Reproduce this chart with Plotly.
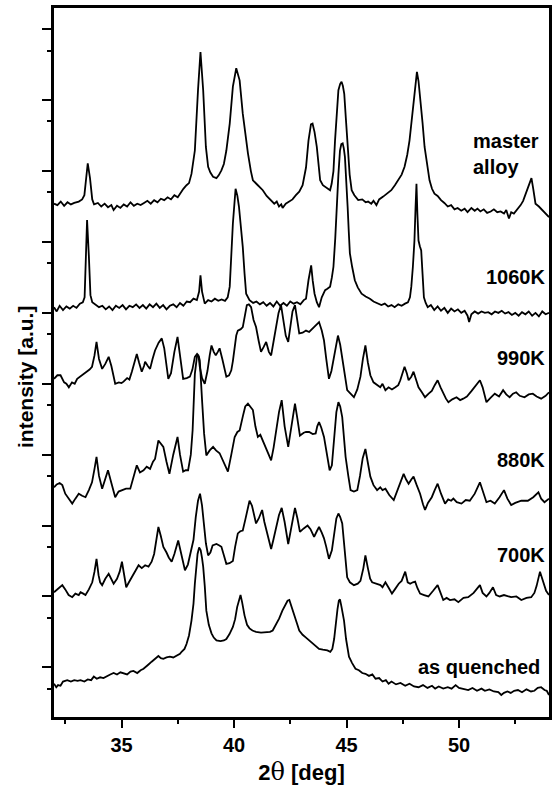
import plotly.graph_objects as go

# ---------------- data (2theta in deg, stacked intensity in a.u.) ----------------
ma_x = [32.0, 32.15, 32.3, 32.45, 32.6, 32.75, 32.9, 33.1, 33.25, 33.35, 33.5, 33.6, 33.7, 33.78,
        33.95, 34.1, 34.25, 34.4, 34.55, 34.65, 34.8, 34.95, 35.1, 35.25, 35.4, 35.55, 35.7, 35.85,
        36.0, 36.15, 36.3, 36.45, 36.6, 36.75, 36.9, 37.05, 37.2, 37.35, 37.5, 37.6, 37.75, 37.89,
        38.0, 38.11, 38.26, 38.4, 38.51, 38.63, 38.75, 38.85, 38.95, 39.07, 39.22, 39.32, 39.44,
        39.55, 39.66, 39.81, 39.95, 40.1, 40.25, 40.39, 40.5, 40.62, 40.75, 40.84, 41.06, 41.2,
        41.28, 41.45, 41.57, 41.68, 41.79, 41.9, 42.0, 42.1, 42.16, 42.3, 42.46, 42.6, 42.75, 42.9,
        43.05, 43.2, 43.31, 43.42, 43.49, 43.58, 43.68, 43.76, 43.83, 43.95, 44.05, 44.15, 44.27,
        44.34, 44.42, 44.49, 44.56, 44.64, 44.72, 44.78, 44.84, 44.9, 44.97, 45.05, 45.14, 45.23,
        45.35, 45.52, 45.7, 45.85, 45.96, 46.1, 46.2, 46.33, 46.45, 46.63, 46.8, 46.99, 47.15,
        47.29, 47.45, 47.58, 47.7, 47.8, 47.95, 48.05, 48.13, 48.2, 48.29, 48.38, 48.47, 48.58,
        48.69, 48.8, 48.91, 49.05, 49.2, 49.35, 49.5, 49.65, 49.8, 49.94, 50.1, 50.25, 50.38,
        50.55, 50.7, 50.82, 50.95, 51.1, 51.25, 51.41, 51.55, 51.7, 51.85, 52.0, 52.1, 52.22,
        52.32, 52.44, 52.6, 52.74, 52.85, 52.96, 53.1, 53.22, 53.3, 53.4, 53.55, 53.7, 53.85, 54.0]
ma_y = [7.24, 7.22, 7.27, 7.21, 7.26, 7.23, 7.25, 7.27, 7.3, 7.36, 7.81, 7.6, 7.3, 7.23,
        7.25, 7.2, 7.24, 7.19, 7.22, 7.15, 7.21, 7.18, 7.23, 7.2, 7.26, 7.21, 7.24, 7.22,
        7.25, 7.28, 7.24, 7.29, 7.26, 7.31, 7.29, 7.33, 7.3, 7.36, 7.33, 7.38, 7.45, 7.5,
        7.53, 7.66, 7.99, 8.84, 9.38, 8.84, 8.04, 7.76, 7.68, 7.62, 7.6, 7.64, 7.71,
        7.8, 7.99, 8.37, 8.89, 9.15, 8.98, 8.51, 8.2, 7.95, 7.7, 7.57, 7.5, 7.46,
        7.43, 7.35, 7.31, 7.28, 7.24, 7.27, 7.2, 7.23, 7.18, 7.24, 7.27, 7.3, 7.36, 7.41,
        7.5, 7.75, 8.13, 8.36, 8.37, 8.25, 8.04, 7.75, 7.57, 7.5, 7.48, 7.45, 7.43,
        7.52, 7.7, 8.13, 8.5, 8.84, 8.93, 8.96, 8.9, 8.79, 8.45, 7.99, 7.65, 7.43,
        7.36, 7.29, 7.3, 7.26, 7.27, 7.24, 7.28, 7.22, 7.3, 7.34, 7.38, 7.43, 7.5,
        7.57, 7.65, 7.76, 7.93, 8.13, 8.61, 8.95, 9.1, 8.97, 8.7, 8.38, 8.04, 7.78,
        7.57, 7.45, 7.38, 7.35, 7.29, 7.25, 7.2, 7.22, 7.16, 7.18, 7.14, 7.17, 7.12,
        7.18, 7.14, 7.17, 7.13, 7.16, 7.11, 7.13, 7.16, 7.12, 7.13, 7.1, 7.15, 7.03,
        7.12, 7.1, 7.16, 7.22, 7.28, 7.38, 7.48, 7.6, 7.45, 7.24, 7.2, 7.15, 7.1, 7.05]

k1060_x = [32.0, 32.12, 32.25, 32.4, 32.55, 32.7, 32.85, 33.0, 33.15, 33.28, 33.36, 33.42, 33.47,
           33.55, 33.62, 33.7, 33.85, 34.0, 34.15, 34.3, 34.45, 34.6, 34.75, 34.9, 35.05, 35.2,
           35.35, 35.5, 35.65, 35.8, 35.95, 36.1, 36.25, 36.4, 36.55, 36.7, 36.85, 37.0, 37.15,
           37.3, 37.45, 37.6, 37.75, 37.9, 38.05, 38.2, 38.35, 38.45, 38.51, 38.58, 38.7, 38.85,
           39.0, 39.15, 39.3, 39.45, 39.6, 39.72, 39.81, 39.88, 39.95, 40.07, 40.15, 40.22, 40.3,
           40.39, 40.47, 40.54, 40.69, 40.85, 41.0, 41.15, 41.3, 41.45, 41.6, 41.75, 41.9, 42.05,
           42.2, 42.35, 42.5, 42.65, 42.8, 42.95, 43.1, 43.2, 43.31, 43.43, 43.5, 43.58, 43.68,
           43.78, 43.9, 44.05, 44.15, 44.27, 44.35, 44.42, 44.5, 44.56, 44.64, 44.71, 44.77, 44.83,
           44.88, 44.93, 45.0, 45.05, 45.1, 45.15, 45.25, 45.37, 45.5, 45.67, 45.85, 46.04, 46.2,
           46.35, 46.55, 46.7, 46.85, 47.0, 47.14, 47.3, 47.45, 47.6, 47.73, 47.82, 47.88, 47.95,
           48.02, 48.07, 48.11, 48.15, 48.2, 48.26, 48.32, 48.38, 48.44, 48.52, 48.61, 48.75, 48.9,
           49.05, 49.2, 49.35, 49.5, 49.65, 49.8, 49.95, 50.1, 50.25, 50.38, 50.45, 50.55, 50.7,
           50.85, 51.0, 51.15, 51.3, 51.45, 51.6, 51.75, 51.9, 52.05, 52.2, 52.35, 52.5, 52.65,
           52.8, 52.95, 53.1, 53.25, 53.4, 53.55, 53.7, 53.85, 54.0]
k1060_y = [5.78, 5.72, 5.8, 5.74, 5.79, 5.76, 5.8, 5.77, 5.83, 5.85, 5.92, 6.5, 7.01,
           6.5, 5.95, 5.85, 5.82, 5.78, 5.8, 5.75, 5.79, 5.74, 5.8, 5.77, 5.81, 5.75,
           5.8, 5.78, 5.82, 5.77, 5.81, 5.76, 5.82, 5.78, 5.83, 5.77, 5.81, 5.75, 5.8,
           5.82, 5.78, 5.84, 5.8, 5.86, 5.85, 5.9, 5.88, 6.0, 6.23, 6.0, 5.83, 5.88,
           5.86, 5.9, 5.87, 5.89, 5.87, 5.92, 6.07, 6.5, 6.96, 7.45, 7.35, 7.2, 6.95,
           6.63, 6.25, 5.97, 5.88, 5.84, 5.86, 5.82, 5.85, 5.8, 5.84, 5.79, 5.86, 5.8,
           5.84, 5.8, 5.86, 5.83, 5.85, 5.82, 5.88, 5.9, 6.16, 6.37, 6.15, 5.97, 5.85,
           5.78, 5.92, 6.02, 6.04, 6.07, 6.2, 6.35, 6.75, 7.2, 7.65, 7.99, 8.08, 8.09,
           8.02, 7.9, 7.55, 7.2, 6.85, 6.54, 6.35, 6.16, 6.06, 5.97, 5.93, 5.9, 5.86,
           5.84, 5.81, 5.83, 5.79, 5.81, 5.78, 5.82, 5.8, 5.83, 5.85, 5.92, 6.07, 6.35,
           6.72, 7.2, 7.52, 7.1, 6.72, 6.64, 6.58, 6.25, 5.92, 5.84, 5.78, 5.81, 5.74,
           5.79, 5.73, 5.77, 5.7, 5.76, 5.72, 5.75, 5.7, 5.73, 5.66, 5.57, 5.68, 5.72,
           5.69, 5.72, 5.7, 5.71, 5.68, 5.72, 5.7, 5.73, 5.69, 5.71, 5.67, 5.7, 5.66,
           5.71, 5.68, 5.72, 5.66, 5.7, 5.65, 5.72, 5.68, 5.7]

k990_x = [32.0, 32.15, 32.29, 32.45, 32.55, 32.66, 32.8, 32.92, 33.03, 33.15, 33.3, 33.47, 33.58,
          33.69, 33.8, 33.89, 34.0, 34.14, 34.28, 34.43, 34.55, 34.72, 34.88, 35.0, 35.09, 35.25,
          35.35, 35.46, 35.58, 35.68, 35.78, 35.9, 36.0, 36.05, 36.17, 36.27, 36.38, 36.49, 36.65,
          36.79, 36.9, 37.0, 37.08, 37.2, 37.35, 37.49, 37.6, 37.74, 37.9, 38.04, 38.15, 38.26,
          38.36, 38.42, 38.48, 38.58, 38.7, 38.82, 38.92, 39.0, 39.1, 39.19, 39.28, 39.36, 39.48,
          39.58, 39.66, 39.78, 39.88, 39.95, 40.03, 40.1, 40.17, 40.3, 40.39, 40.48, 40.57, 40.66,
          40.76, 40.87, 40.98, 41.1, 41.2, 41.32, 41.43, 41.55, 41.65, 41.76, 41.87, 41.98, 42.09,
          42.2, 42.3, 42.41, 42.5, 42.6, 42.71, 42.8, 42.9, 43.05, 43.2, 43.34, 43.5, 43.65,
          43.78, 43.9, 44.0, 44.1, 44.22, 44.33, 44.44, 44.53, 44.62, 44.72, 44.81, 44.92, 45.03,
          45.18, 45.33, 45.48, 45.62, 45.73, 45.84, 45.95, 46.06, 46.2, 46.36, 46.5, 46.6, 46.73,
          46.87, 47.02, 47.17, 47.3, 47.39, 47.48, 47.58, 47.68, 47.76, 47.88, 47.98, 48.1, 48.2,
          48.35, 48.49, 48.65, 48.79, 48.92, 49.05, 49.18, 49.3, 49.42, 49.53, 49.7, 49.89, 50.05,
          50.19, 50.35, 50.56, 50.75, 50.93, 51.05, 51.22, 51.4, 51.59, 51.78, 51.96, 52.1, 52.25,
          52.4, 52.54, 52.7, 52.91, 53.1, 53.28, 53.45, 53.65, 53.85, 54.0]
k990_y = [4.77, 4.82, 4.82, 4.72, 4.7, 4.65, 4.72, 4.7, 4.77, 4.8, 4.83, 4.87, 4.9,
          4.94, 5.1, 5.29, 5.05, 4.91, 4.98, 5.08, 4.95, 4.7, 4.72, 4.71, 4.73, 4.78,
          4.76, 4.87, 5.0, 5.12, 5.0, 4.87, 4.95, 5.01, 4.95, 4.91, 5.05, 5.17, 5.28,
          5.34, 5.2, 4.95, 4.77, 4.85, 5.15, 5.36, 5.1, 4.77, 4.78, 4.8, 4.9, 5.08,
          5.12, 5.1, 4.94, 4.78, 4.7, 4.88, 5.1, 5.24, 5.15, 5.1, 5.15, 5.2, 5.05,
          4.88, 4.8, 4.82, 4.89, 5.02, 5.2, 5.38, 5.45, 5.47, 5.5, 5.65, 5.81, 5.82,
          5.78, 5.6, 5.5, 5.3, 5.15, 5.22, 5.29, 5.15, 5.1, 5.3, 5.5, 5.7, 5.81,
          5.6, 5.38, 5.29, 5.5, 5.72, 5.81, 5.6, 5.41, 5.42, 5.45, 5.43, 5.48, 5.52,
          5.57, 5.45, 5.31, 5.05, 4.77, 4.88, 5.08, 5.25, 5.38, 5.25, 5.08, 4.85, 4.61,
          4.56, 4.51, 4.62, 4.8, 5.05, 5.24, 5.0, 4.82, 4.72, 4.68, 4.65, 4.7, 4.61,
          4.65, 4.62, 4.65, 4.68, 4.75, 4.85, 4.94, 4.85, 4.75, 4.8, 4.87, 4.75, 4.65,
          4.58, 4.51, 4.56, 4.6, 4.68, 4.75, 4.65, 4.56, 4.49, 4.44, 4.48, 4.51, 4.47,
          4.49, 4.52, 4.6, 4.68, 4.75, 4.65, 4.44, 4.5, 4.56, 4.52, 4.61, 4.55, 4.51,
          4.56, 4.58, 4.53, 4.51, 4.55, 4.56, 4.52, 4.49, 4.53, 4.58]

k880_x = [32.0, 32.12, 32.25, 32.37, 32.5, 32.65, 32.81, 32.95, 33.1, 33.25, 33.4, 33.55, 33.69,
          33.8, 33.89, 34.0, 34.14, 34.27, 34.4, 34.55, 34.72, 34.87, 35.02, 35.2, 35.39, 35.55,
          35.68, 35.82, 35.98, 36.12, 36.27, 36.4, 36.49, 36.64, 36.75, 36.86, 37.0, 37.13, 37.3,
          37.49, 37.6, 37.74, 37.85, 37.96, 38.08, 38.16, 38.26, 38.36, 38.44, 38.48, 38.58, 38.67,
          38.77, 38.92, 39.07, 39.2, 39.36, 39.55, 39.73, 39.88, 40.03, 40.15, 40.25, 40.4, 40.5,
          40.62, 40.72, 40.84, 40.95, 41.06, 41.17, 41.28, 41.45, 41.65, 41.76, 41.87, 42.0, 42.12,
          42.25, 42.41, 42.55, 42.71, 42.82, 42.93, 43.1, 43.2, 43.34, 43.5, 43.63, 43.7, 43.78,
          43.88, 44.0, 44.12, 44.25, 44.35, 44.45, 44.55, 44.64, 44.72, 44.81, 44.88, 44.96, 45.08,
          45.18, 45.33, 45.48, 45.6, 45.72, 45.84, 45.95, 46.06, 46.2, 46.36, 46.5, 46.6, 46.73,
          46.9, 47.1, 47.25, 47.39, 47.54, 47.65, 47.76, 47.88, 47.98, 48.12, 48.27, 48.4, 48.49,
          48.62, 48.79, 48.92, 49.05, 49.2, 49.38, 49.52, 49.65, 49.75, 49.9, 50.11, 50.3, 50.48,
          50.7, 50.93, 51.05, 51.22, 51.4, 51.59, 51.8, 52.0, 52.15, 52.32, 52.5, 52.77, 53.06,
          53.3, 53.53, 53.65, 53.8, 54.0]
k880_y = [3.24, 3.28, 3.3, 3.27, 3.15, 3.08, 3.01, 3.08, 3.15, 3.12, 3.1, 3.2, 3.31,
          3.5, 3.67, 3.4, 3.22, 3.35, 3.48, 3.3, 3.1, 3.18, 3.2, 3.22, 3.22, 3.4,
          3.55, 3.45, 3.48, 3.53, 3.5, 3.6, 3.64, 3.9, 3.86, 3.81, 3.6, 3.43, 3.7,
          3.95, 3.7, 3.46, 3.48, 3.48, 3.7, 4.04, 4.84, 5.1, 5.08, 5.03, 4.47, 4.0,
          3.69, 3.76, 3.81, 3.76, 3.72, 3.58, 3.46, 3.7, 3.95, 4.02, 4.04, 4.25, 4.38,
          4.42, 4.38, 4.33, 4.1, 3.95, 3.98, 3.9, 3.75, 3.62, 3.8, 4.04, 4.3, 4.47,
          4.1, 3.81, 4.1, 4.42, 4.2, 3.97, 4.01, 4.02, 4.02, 3.99, 4.0, 4.1, 4.16,
          4.08, 3.95, 3.7, 3.48, 3.55, 3.9, 4.3, 4.44, 4.38, 4.23, 3.95, 3.67, 3.4,
          3.2, 3.18, 3.2, 3.4, 3.65, 3.78, 3.6, 3.39, 3.27, 3.2, 3.24, 3.2, 3.22,
          3.13, 3.06, 3.18, 3.29, 3.43, 3.35, 3.29, 3.35, 3.39, 3.27, 3.15, 3.0, 2.92,
          3.02, 3.1, 3.2, 3.29, 3.15, 3.01, 3.07, 3.05, 3.08, 3.03, 3.01, 3.06, 3.05,
          3.15, 3.31, 3.2, 3.03, 3.05, 3.01, 3.1, 3.2, 3.08, 2.99, 3.02, 3.05, 3.05,
          3.1, 3.17, 3.08, 3.03, 3.08]

k700_x = [32.0, 32.15, 32.37, 32.5, 32.65, 32.81, 32.95, 33.1, 33.18, 33.3, 33.4, 33.55, 33.7,
          33.8, 33.89, 33.98, 34.05, 34.14, 34.28, 34.43, 34.55, 34.65, 34.8, 34.92, 35.02, 35.12,
          35.21, 35.33, 35.46, 35.6, 35.76, 35.9, 36.05, 36.2, 36.34, 36.45, 36.55, 36.64, 36.75,
          36.86, 37.0, 37.1, 37.23, 37.35, 37.52, 37.65, 37.82, 37.95, 38.11, 38.2, 38.3, 38.4,
          38.49, 38.58, 38.66, 38.75, 38.85, 38.95, 39.05, 39.22, 39.35, 39.44, 39.55, 39.66, 39.8,
          39.95, 40.05, 40.17, 40.28, 40.39, 40.5, 40.6, 40.69, 40.8, 40.9, 40.98, 41.1, 41.25,
          41.35, 41.5, 41.65, 41.75, 41.87, 42.0, 42.12, 42.25, 42.41, 42.55, 42.71, 42.82, 42.93,
          43.1, 43.27, 43.4, 43.56, 43.68, 43.78, 43.9, 44.0, 44.1, 44.22, 44.35, 44.45, 44.55,
          44.64, 44.72, 44.81, 44.9, 45.03, 45.15, 45.33, 45.5, 45.62, 45.75, 45.84, 45.95, 46.05,
          46.14, 46.3, 46.51, 46.6, 46.73, 46.88, 47.02, 47.15, 47.32, 47.45, 47.61, 47.72, 47.83,
          47.95, 48.05, 48.15, 48.27, 48.45, 48.64, 48.85, 49.05, 49.18, 49.3, 49.45, 49.6, 49.8,
          49.97, 50.2, 50.41, 50.65, 50.93, 51.05, 51.22, 51.35, 51.51, 51.65, 51.81, 52.0, 52.32,
          52.55, 52.77, 53.0, 53.21, 53.35, 53.45, 53.6, 53.7, 53.87, 54.0]
k700_y = [1.76, 1.8, 1.86, 1.8, 1.72, 1.69, 1.74, 1.72, 1.76, 1.74, 1.72, 1.8, 1.9,
          2.05, 2.23, 2.0, 1.9, 1.86, 1.95, 2.02, 1.95, 1.88, 1.95, 2.05, 2.19, 2.0,
          1.83, 1.9, 1.97, 2.05, 2.14, 2.1, 2.14, 2.12, 2.19, 2.3, 2.5, 2.68, 2.55,
          2.4, 2.32, 2.25, 2.19, 2.3, 2.49, 2.3, 2.07, 2.15, 2.35, 2.5, 2.82, 3.05,
          3.15, 2.98, 2.73, 2.45, 2.28, 2.32, 2.42, 2.44, 2.42, 2.4, 2.28, 2.16, 2.17,
          2.2, 2.4, 2.59, 2.62, 2.63, 2.78, 2.95, 3.05, 2.98, 2.85, 2.73, 2.8, 2.92,
          2.75, 2.55, 2.37, 2.5, 2.65, 2.85, 2.95, 2.75, 2.44, 2.7, 2.95, 2.8, 2.61,
          2.66, 2.7, 2.65, 2.54, 2.62, 2.68, 2.6, 2.52, 2.4, 2.23, 2.35, 2.6, 2.8,
          2.87, 2.82, 2.73, 2.4, 1.97, 1.9, 1.86, 1.88, 1.92, 2.1, 2.28, 2.1, 1.95,
          1.9, 1.88, 1.86, 1.83, 1.9, 1.82, 1.74, 1.8, 1.88, 1.92, 2.05, 1.9, 1.88,
          1.9, 1.91, 1.82, 1.74, 1.72, 1.7, 1.78, 1.86, 1.75, 1.65, 1.68, 1.65, 1.66,
          1.62, 1.68, 1.69, 1.75, 1.86, 1.75, 1.7, 1.75, 1.83, 1.72, 1.7, 1.72, 1.69,
          1.7, 1.65, 1.68, 1.69, 1.75, 1.85, 2.05, 1.95, 1.78, 1.72]

aq_x = [32.0, 32.1, 32.18, 32.29, 32.4, 32.59, 32.75, 32.9, 33.05, 33.18, 33.35, 33.5, 33.65,
        33.77, 33.9, 34.05, 34.2, 34.36, 34.5, 34.65, 34.8, 34.95, 35.1, 35.25, 35.4, 35.53,
        35.7, 35.85, 35.98, 36.1, 36.2, 36.34, 36.5, 36.64, 36.75, 36.86, 37.0, 37.15, 37.3,
        37.45, 37.6, 37.67, 37.8, 37.89, 38.0, 38.11, 38.2, 38.26, 38.33, 38.38, 38.45, 38.52,
        38.58, 38.63, 38.7, 38.77, 38.88, 39.0, 39.1, 39.22, 39.4, 39.55, 39.66, 39.8, 39.95,
        40.05, 40.14, 40.22, 40.29, 40.36, 40.47, 40.58, 40.69, 40.82, 40.98, 41.2, 41.43, 41.6,
        41.72, 41.85, 42.01, 42.15, 42.27, 42.38, 42.46, 42.55, 42.68, 42.8, 42.9, 43.05, 43.2,
        43.34, 43.5, 43.65, 43.78, 43.95, 44.15, 44.28, 44.37, 44.45, 44.52, 44.6, 44.66, 44.71,
        44.78, 44.89, 44.98, 45.11, 45.25, 45.4, 45.55, 45.7, 45.84, 46.0, 46.15, 46.29, 46.45,
        46.6, 46.75, 46.87, 47.0, 47.2, 47.4, 47.61, 47.8, 48.0, 48.2, 48.4, 48.6, 48.8, 48.94,
        49.1, 49.3, 49.5, 49.67, 49.85, 50.0, 50.2, 50.41, 50.6, 50.8, 51.0, 51.15, 51.35, 51.55,
        51.75, 51.88, 52.0, 52.15, 52.3, 52.45, 52.62, 52.8, 53.0, 53.2, 53.35, 53.5, 53.65,
        53.8, 53.9, 54.0]
aq_y = [0.47, 0.42, 0.45, 0.44, 0.5, 0.52, 0.5, 0.52, 0.51, 0.52, 0.5, 0.53, 0.52,
        0.57, 0.54, 0.56, 0.55, 0.58, 0.6, 0.62, 0.6, 0.63, 0.61, 0.6, 0.64, 0.65,
        0.62, 0.66, 0.68, 0.72, 0.74, 0.78, 0.82, 0.86, 0.83, 0.82, 0.84, 0.85, 0.84,
        0.87, 0.89, 0.92, 0.96, 1.03, 1.15, 1.36, 1.6, 1.88, 2.15, 2.3, 2.39, 2.35,
        2.24, 2.12, 1.85, 1.5, 1.3, 1.18, 1.12, 1.08, 1.07, 1.08, 1.1, 1.17, 1.27,
        1.38, 1.55, 1.66, 1.72, 1.62, 1.43, 1.3, 1.25, 1.22, 1.2, 1.19, 1.2, 1.2,
        1.22, 1.3, 1.39, 1.5, 1.58, 1.64, 1.65, 1.57, 1.43, 1.32, 1.22, 1.16, 1.12,
        1.08, 1.04, 1.0, 0.96, 0.95, 0.94, 0.92, 0.96, 1.1, 1.32, 1.52, 1.64, 1.66,
        1.55, 1.36, 1.1, 0.85, 0.76, 0.68, 0.66, 0.62, 0.61, 0.58, 0.6, 0.54, 0.55,
        0.5, 0.52, 0.47, 0.5, 0.46, 0.48, 0.44, 0.47, 0.43, 0.42, 0.45, 0.41, 0.44, 0.4,
        0.43, 0.4, 0.42, 0.4, 0.45, 0.41, 0.4, 0.38, 0.41, 0.37, 0.4, 0.37, 0.39, 0.36,
        0.35, 0.31, 0.34, 0.36, 0.34, 0.37, 0.38, 0.35, 0.39, 0.36, 0.37, 0.41, 0.42,
        0.38, 0.37, 0.31]

series_x = [ma_x, k1060_x, k990_x, k880_x, k700_x, aq_x]
series_y = [ma_y, k1060_y, k990_y, k880_y, k700_y, aq_y]
series_names = ["master alloy", "1060K", "990K", "880K", "700K", "as quenched"]

# label texts and their anchor points (data units)
label_text = ["master<br>alloy", "1060K", "990K", "880K", "700K", "as quenched"]
label_x = [50.52, 53.9, 53.9, 53.9, 53.9, 53.7]
label_y = [7.94, 6.21, 5.06, 3.62, 2.28, 0.705]
label_anchor = ["left", "right", "right", "right", "right", "right"]

x_major_ticks = [35, 40, 45, 50]
x_minor_ticks = [32.5, 37.5, 42.5, 47.5, 52.5]
y_major_ticks = [0.7, 1.7, 2.7, 3.7, 4.7, 5.7, 6.7, 7.7, 8.7, 9.7]
y_minor_ticks = [0.4, 1.4, 2.4, 3.4, 4.4, 5.4, 6.4, 7.4, 8.4, 9.4]

FONT = "Liberation Sans, Arial, Helvetica, sans-serif"

fig = go.Figure()
for xs, ys, nm in zip(series_x, series_y, series_names):
    fig.add_trace(go.Scatter(x=xs, y=ys, mode="lines", name=nm,
                             line=dict(color="black", width=1.8), showlegend=False))

for t, x, y, a in zip(label_text, label_x, label_y, label_anchor):
    fig.add_annotation(x=x, y=y, xref="x", yref="y", text="<b>" + t + "</b>",
                       showarrow=False, xanchor=a, yanchor="middle", align="left",
                       font=dict(family=FONT, size=20, color="black"))

# y axis title as rotated annotation
fig.add_annotation(x=-0.058, y=0.48, xref="paper", yref="paper",
                   text="<b>intensity [a.u.]</b>", textangle=-90, showarrow=False,
                   xanchor="center", yanchor="middle",
                   font=dict(family=FONT, size=21, color="black"))

fig.update_layout(
    width=555, height=786,
    margin=dict(l=54, r=3, t=8, b=69),
    paper_bgcolor="white", plot_bgcolor="white",
    font=dict(family=FONT, size=20, color="black"),
    xaxis=dict(
        range=[32, 54], tickmode="array", tickvals=x_major_ticks,
        ticktext=["<b>%d</b>" % v for v in x_major_ticks],
        ticks="outside", ticklen=8, tickwidth=2, tickcolor="black",
        minor=dict(tickmode="array", tickvals=x_minor_ticks, ticks="outside",
                   ticklen=4, tickwidth=2, tickcolor="black"),
        showline=True, linecolor="black", linewidth=2.5, mirror=True,
        showgrid=False, zeroline=False,
        tickfont=dict(family=FONT, size=20, color="black"),
        title=dict(text="<b>2<span style=\"font-family:'DejaVu Serif';font-weight:normal;font-size:24px\">θ</span> [deg]</b>",
                   font=dict(family=FONT, size=22, color="black"), standoff=12),
    ),
    yaxis=dict(
        range=[0, 10], tickmode="array", tickvals=y_major_ticks, showticklabels=False,
        ticks="outside", ticklen=9, tickwidth=2, tickcolor="black",
        minor=dict(tickmode="array", tickvals=y_minor_ticks, ticks="outside",
                   ticklen=4, tickwidth=2, tickcolor="black"),
        showline=True, linecolor="black", linewidth=2.5, mirror=True,
        showgrid=False, zeroline=False,
    ),
)

fig.write_html("out.html", config={"displayModeBar": False},
               post_script="document.body.style.margin='0';document.body.style.overflow='hidden';")
